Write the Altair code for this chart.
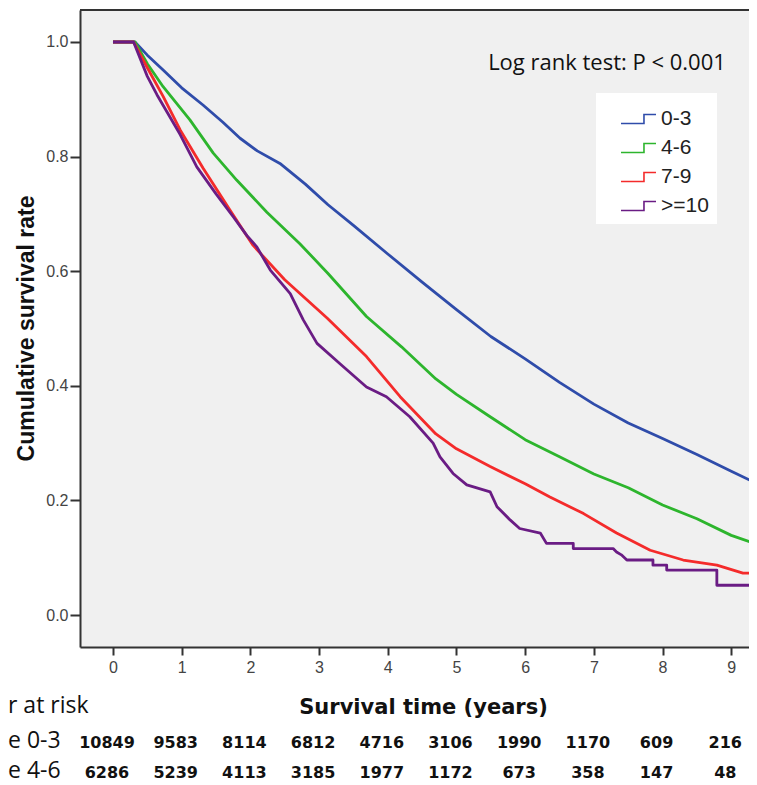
import altair as alt
import pandas as pd

# ---------------- data ----------------
groups = ["0-3", "4-6", "7-9", ">=10"]
colors = ["#2f4caa", "#2db52d", "#f42b2b", "#6a1c84"]

t_b = [0, 0.32, 0.5, 0.73, 1.0, 1.31, 1.6, 1.85, 2.1, 2.43, 2.8, 3.13, 3.5, 4.0, 4.5,
       5.0, 5.5, 6.0, 6.5, 7.0, 7.5, 8.0, 8.5, 9.0, 9.5]
v_b = [1.0, 1.0, 0.977, 0.951, 0.92, 0.89, 0.86, 0.832, 0.81, 0.788, 0.752, 0.716, 0.68,
       0.630, 0.581, 0.533, 0.486, 0.447, 0.406, 0.368, 0.335, 0.308, 0.280, 0.251, 0.222]

t_g = [0, 0.32, 0.5, 0.73, 1.12, 1.46, 1.8, 2.24, 2.72, 3.13, 3.69, 4.2, 4.7, 5.0, 5.49,
       6.0, 6.5, 7.0, 7.5, 8.0, 8.5, 9.0, 9.5]
v_g = [1.0, 1.0, 0.962, 0.922, 0.864, 0.806, 0.759, 0.703, 0.648, 0.596, 0.521, 0.468,
       0.412, 0.385, 0.346, 0.306, 0.276, 0.246, 0.222, 0.192, 0.168, 0.139, 0.118]

t_r = [0, 0.3, 0.5, 0.73, 0.98, 1.31, 1.7, 2.04, 2.5, 3.12, 3.69, 4.18, 4.7, 5.0, 5.49,
       6.0, 6.36, 6.85, 7.33, 7.82, 8.3, 8.79, 9.17, 9.5]
v_r = [1.0, 1.0, 0.955, 0.905, 0.846, 0.78, 0.707, 0.645, 0.585, 0.518, 0.451, 0.381,
       0.316, 0.29, 0.259, 0.229, 0.206, 0.177, 0.143, 0.113, 0.096, 0.087, 0.073, 0.073]

t_p = [0, 0.3, 0.5, 0.64, 0.98, 1.22, 1.5, 1.75, 1.95, 2.09, 2.29, 2.58, 2.77, 2.97, 3.3,
       3.69, 3.98, 4.32, 4.66, 4.76, 4.95, 5.15, 5.49, 5.59, 5.78, 5.92, 6.22, 6.31, 6.70,
       6.70, 7.28, 7.33, 7.40, 7.48, 7.86, 7.86, 8.06, 8.06, 8.79, 8.79, 9.5]
v_p = [1.0, 1.0, 0.94, 0.908, 0.838, 0.782, 0.735, 0.695, 0.662, 0.643, 0.602, 0.561,
       0.515, 0.474, 0.439, 0.398, 0.381, 0.346, 0.300, 0.276, 0.247, 0.227, 0.215, 0.189,
       0.166, 0.151, 0.143, 0.125, 0.125, 0.116, 0.116, 0.110, 0.105, 0.096, 0.096, 0.087,
       0.087, 0.0785, 0.0785, 0.052, 0.052]

x_ticks = [0, 1, 2, 3, 4, 5, 6, 7, 8, 9]
y_ticks = [0.0, 0.2, 0.4, 0.6, 0.8, 1.0]

risk_years = [0, 1, 2, 3, 4, 5, 6, 7, 8, 9]
risk_0_3 = [10849, 9583, 8114, 6812, 4716, 3106, 1990, 1170, 609, 216]
risk_4_6 = [6286, 5239, 4113, 3185, 1977, 1172, 673, 358, 147, 48]
row_labels = ["e 0-3", "e 4-6"]

annotation = "Log rank test: P < 0.001"
risk_title = "r at risk"

# ---------------- tables ----------------
rows = []
for g, ts, vs in zip(groups, [t_b, t_g, t_r, t_p], [v_b, v_g, v_r, v_p]):
    for i, (t, v) in enumerate(zip(ts, vs)):
        rows.append({"group": g, "t": t, "s": v, "order": i})
curves = pd.DataFrame(rows)

risk1 = pd.DataFrame({"t": risk_years, "n": [str(v) for v in risk_0_3]})
risk2 = pd.DataFrame({"t": risk_years, "n": [str(v) for v in risk_4_6]})

W, H = 669, 637
X_DOM = [-0.48, 9.258]
Y_DOM = [-0.0558, 1.0558]

x_enc = alt.X(
    "t:Q",
    scale=alt.Scale(domain=X_DOM, nice=False, zero=False),
    axis=alt.Axis(
        values=x_ticks, format="d", title="Survival time (years)", grid=False,
        tickSize=8, tickWidth=2, tickColor="#333", domainColor="#333", domainWidth=2,
        labelFont="Liberation Sans", labelFontSize=16, labelColor="#444",
        labelPadding=4, labelFlush=False,
        titleFont="DejaVu Sans", titleFontSize=21, titleFontWeight="bold",
        titleColor="#111", titleX=343, titleY=66, titleBaseline="alphabetic",
    ),
)
y_enc = alt.Y(
    "s:Q",
    scale=alt.Scale(domain=Y_DOM, nice=False, zero=False),
    axis=alt.Axis(
        values=y_ticks, format=".1f", title="Cumulative survival rate", grid=False,
        tickSize=10, tickWidth=2, tickColor="#333", domainColor="#333", domainWidth=2,
        labelFont="Liberation Sans", labelFontSize=16, labelColor="#444",
        labelPadding=2, labelFlush=False,
        titleFont="Liberation Sans", titleFontSize=23, titleFontWeight="bold",
        titleColor="#111", titleX=-47, titleY=318, titleAngle=270,
        titleBaseline="alphabetic",
    ),
)

lines = alt.Chart(curves).mark_line(strokeWidth=2.8, clip=True, strokeJoin="round").encode(
    x=x_enc,
    y=y_enc,
    order="order:Q",
    color=alt.Color(
        "group:N",
        scale=alt.Scale(domain=groups, range=colors),
        sort=groups,
        legend=alt.Legend(
            title=" ", titleFontSize=4, titlePadding=3.5,
            orient="none", legendX=516, legendY=83,
            fillColor="white", padding=8,
            symbolType="M0.87,0.6L3.93,0.6L3.93,-0.6L5.53,-0.6",
            symbolSize=225, symbolStrokeWidth=1.6, symbolFillColor="transparent",
            labelFont="Liberation Sans", labelFontSize=21, labelColor="#222",
            labelOffset=36, rowPadding=7,
        ),
    ),
)

top_border = alt.Chart(pd.DataFrame({"a": [0]})).mark_rule(
    color="#333", strokeWidth=2
).encode(y=alt.value(0))

note = alt.Chart(pd.DataFrame({"txt": [annotation]})).mark_text(
    font="Open Sans", fontSize=22, color="#111", align="center", baseline="alphabetic"
).encode(text="txt:N", x=alt.value(527), y=alt.value(60))

risk_head = alt.Chart(pd.DataFrame({"txt": [risk_title]})).mark_text(
    font="Open Sans", fontSize=23, color="#111", align="left", baseline="alphabetic"
).encode(text="txt:N", x=alt.value(-72), y=alt.value(703))

lab1 = alt.Chart(pd.DataFrame({"txt": [row_labels[0]]})).mark_text(
    font="Open Sans", fontSize=23, color="#111", align="left", baseline="alphabetic"
).encode(text="txt:N", x=alt.value(-72), y=alt.value(738))
lab2 = alt.Chart(pd.DataFrame({"txt": [row_labels[1]]})).mark_text(
    font="Open Sans", fontSize=23, color="#111", align="left", baseline="alphabetic"
).encode(text="txt:N", x=alt.value(-72), y=alt.value(768))

num1 = alt.Chart(risk1).mark_text(
    font="DejaVu Sans", fontSize=16, fontWeight="bold", color="#111",
    align="center", baseline="alphabetic", dx=-6
).encode(x=x_enc, y=alt.value(738), text="n:N")
num2 = alt.Chart(risk2).mark_text(
    font="DejaVu Sans", fontSize=16, fontWeight="bold", color="#111",
    align="center", baseline="alphabetic", dx=-6
).encode(x=x_enc, y=alt.value(768), text="n:N")

chart = alt.layer(
    lines, top_border, note, risk_head, lab1, lab2, num1, num2
).properties(
    width=W, height=H,
    autosize=alt.AutoSizeParams(type="none"),
    padding={"left": 72, "top": 2, "right": 0, "bottom": 138},
    background="white",
).configure_view(
    fill="#f0f0f0", stroke=None
)

chart.save("out.html", embed_options={"renderer": "svg", "actions": False})
